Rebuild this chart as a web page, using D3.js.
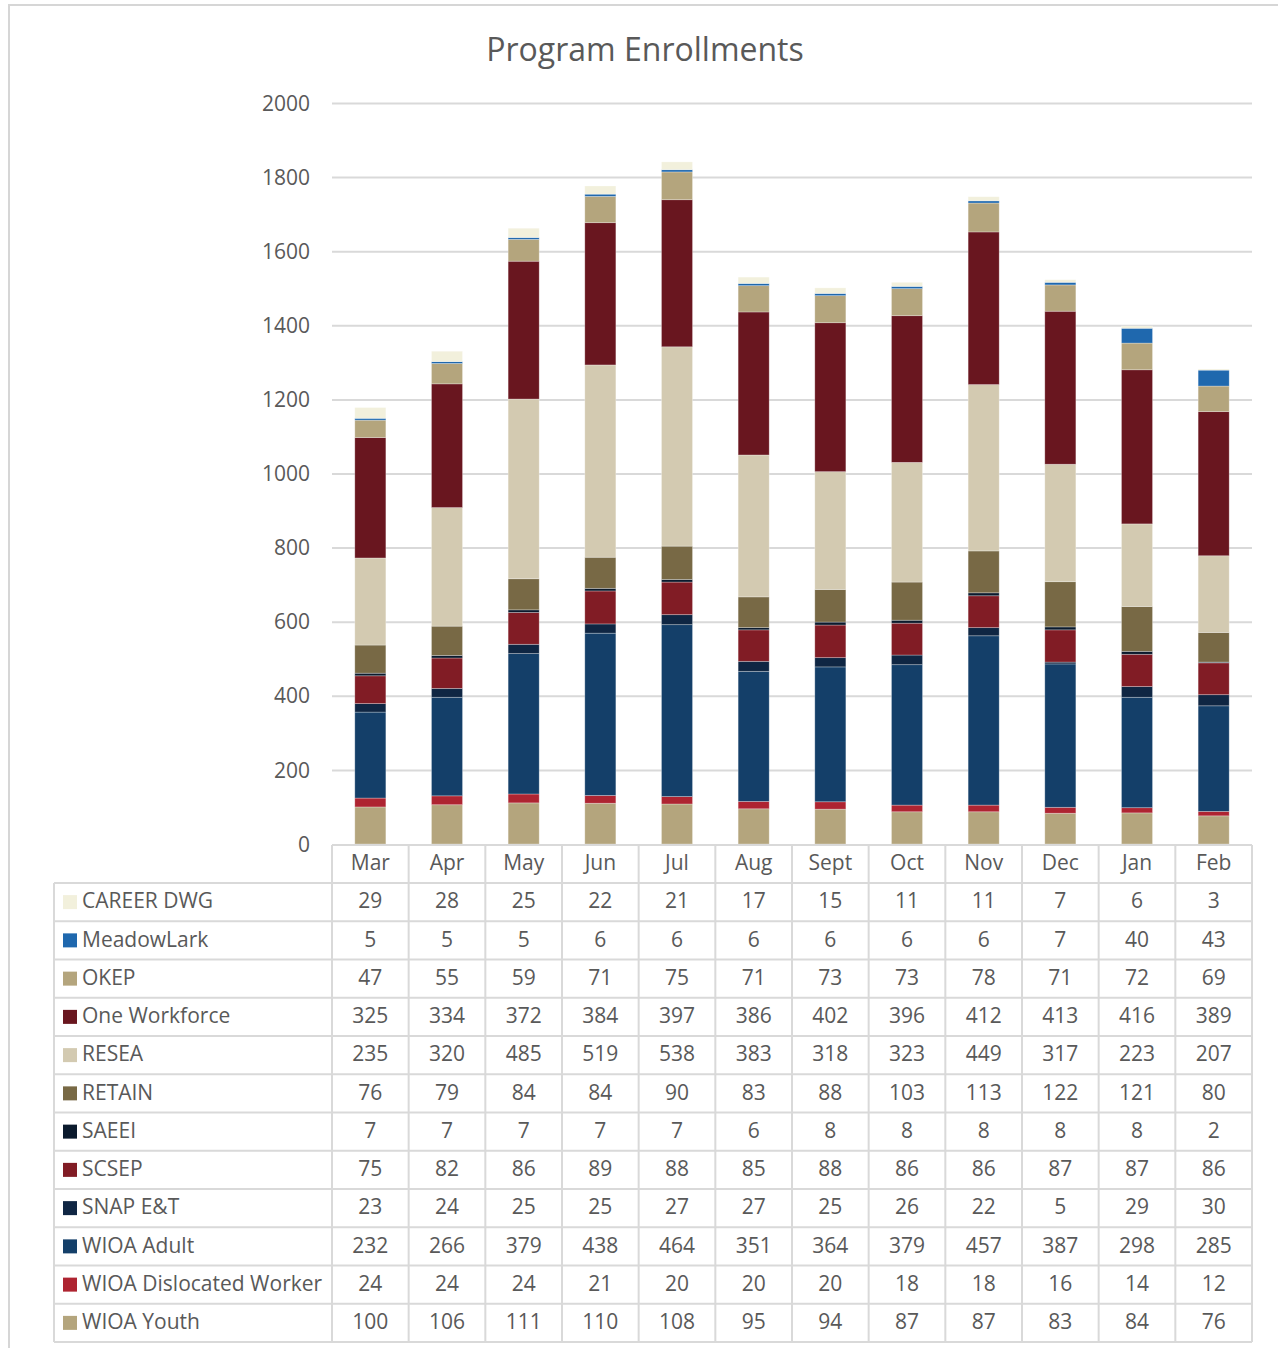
<!DOCTYPE html>
<html>
<head>
<meta charset="utf-8">
<script src="https://cdn.jsdelivr.net/npm/d3@7"></script>
<style>
  html, body { margin: 0; padding: 0; background: #fff; }
  svg { display: block; }
  text { font-family: "Open Sans", "Liberation Sans", sans-serif; fill: #595959; }
</style>
</head>
<body>
<svg id="chart" width="1278" height="1348"></svg>
<script>
// Months shown along the x axis / table header
const months = ["Mar", "Apr", "May", "Jun", "Jul", "Aug", "Sept", "Oct", "Nov", "Dec", "Jan", "Feb"];

// Monthly enrollments per program
const careerDwg          = [29, 28, 25, 22, 21, 17, 15, 11, 11, 7, 6, 3];
const meadowLark         = [5, 5, 5, 6, 6, 6, 6, 6, 6, 7, 40, 43];
const okep               = [47, 55, 59, 71, 75, 71, 73, 73, 78, 71, 72, 69];
const oneWorkforce       = [325, 334, 372, 384, 397, 386, 402, 396, 412, 413, 416, 389];
const resea              = [235, 320, 485, 519, 538, 383, 318, 323, 449, 317, 223, 207];
const retain             = [76, 79, 84, 84, 90, 83, 88, 103, 113, 122, 121, 80];
const saeei              = [7, 7, 7, 7, 7, 6, 8, 8, 8, 8, 8, 2];
const scsep              = [75, 82, 86, 89, 88, 85, 88, 86, 86, 87, 87, 86];
const snapEt             = [23, 24, 25, 25, 27, 27, 25, 26, 22, 5, 29, 30];
const wioaAdult          = [232, 266, 379, 438, 464, 351, 364, 379, 457, 387, 298, 285];
const wioaDislocated     = [24, 24, 24, 21, 20, 20, 20, 18, 18, 16, 14, 12];
const wioaYouth          = [100, 106, 111, 110, 108, 95, 94, 87, 87, 83, 84, 76];

// Table order (top to bottom); the stack is drawn in the reverse order
const seriesNames = ["CAREER DWG", "MeadowLark", "OKEP", "One Workforce", "RESEA", "RETAIN",
                     "SAEEI", "SCSEP", "SNAP E&T", "WIOA Adult", "WIOA Dislocated Worker", "WIOA Youth"];
const seriesValues = [careerDwg, meadowLark, okep, oneWorkforce, resea, retain,
                      saeei, scsep, snapEt, wioaAdult, wioaDislocated, wioaYouth];
const seriesColors = ["#f2f0dc", "#1f68ae", "#b4a57d", "#69161f", "#d3cab1", "#786945",
                      "#0b1a2d", "#811c25", "#0f2643", "#143f69", "#ae2431", "#b4a57d"];

// Y axis ticks
const yTicks = [0, 200, 400, 600, 800, 1000, 1200, 1400, 1600, 1800, 2000];

const svg = d3.select("#chart");
const plotLeft = 332, plotRight = 1252, plotTop = 103, plotBottom = 844;
const labelLeft = 54;
const headerH = 38, rowH = 38.25;
const gridColor = "#d9d9d9";

// Frame around the chart area
svg.append("line").attr("x1", 8).attr("x2", 1278).attr("y1", 5).attr("y2", 5)
  .attr("stroke", "#d6d6d6").attr("stroke-width", 2);
svg.append("line").attr("x1", 9).attr("x2", 9).attr("y1", 5).attr("y2", 1348)
  .attr("stroke", "#d6d6d6").attr("stroke-width", 2);

// Title
svg.append("text").attr("x", 645).attr("y", 61).attr("text-anchor", "middle")
  .style("font-size", "32px").text("Program Enrollments");

const x = d3.scaleBand().domain(months).range([plotLeft, plotRight]).paddingInner(0).paddingOuter(0);
const y = d3.scaleLinear().domain([0, 2000]).range([plotBottom, plotTop]);

// Gridlines and y labels
const yAxis = d3.axisLeft(y).tickValues(yTicks).tickSize(0).tickPadding(0).tickFormat(d3.format("d"));
const yg = svg.append("g").attr("transform", `translate(${plotLeft},0)`).call(yAxis);
yg.select(".domain").remove();
yg.selectAll(".tick text").attr("x", -22).attr("dy", "0.34em")
  .style("font-size", "21px").style("font-family", '"Open Sans", sans-serif').attr("fill", "#595959");
yg.selectAll(".tick").filter(d => d !== 0).append("line")
  .attr("x1", 0).attr("x2", plotRight - plotLeft).attr("stroke", gridColor).attr("stroke-width", 2);

// Stacked bars
const table = months.map((m, i) => {
  const row = { month: m };
  seriesNames.forEach((s, k) => { row[s] = seriesValues[k][i]; });
  return row;
});
const stackKeys = seriesNames.slice().reverse();
const stacked = d3.stack().keys(stackKeys)(table);
const color = d3.scaleOrdinal().domain(seriesNames).range(seriesColors);
const barW = x.bandwidth() * 0.405;

svg.append("g").selectAll("g").data(stacked).join("g")
  .attr("fill", d => color(d.key))
  .selectAll("rect").data(d => d).join("rect")
  .attr("x", d => x(d.data.month) + (x.bandwidth() - barW) / 2)
  .attr("width", barW)
  .attr("y", d => y(d[1]))
  .attr("height", d => y(d[0]) - y(d[1]))
  .attr("stroke", "rgba(255,255,255,0.35)")
  .attr("stroke-width", 0.8);

// Data table
const tTop = plotBottom + 1;
const rowsTop = tTop + headerH;
const tBottom = rowsTop + rowH * seriesNames.length;
const tg = svg.append("g");

// horizontal rules
tg.append("line").attr("x1", plotLeft).attr("x2", plotRight).attr("y1", tTop).attr("y2", tTop)
  .attr("stroke", gridColor).attr("stroke-width", 2);
d3.range(seriesNames.length + 1).forEach(i => {
  const yy = rowsTop + i * rowH;
  tg.append("line").attr("x1", labelLeft).attr("x2", plotRight).attr("y1", yy).attr("y2", yy)
    .attr("stroke", gridColor).attr("stroke-width", 2);
});
// vertical rules
tg.append("line").attr("x1", labelLeft).attr("x2", labelLeft).attr("y1", rowsTop).attr("y2", tBottom)
  .attr("stroke", gridColor).attr("stroke-width", 2);
months.forEach((m, i) => {
  const xx = x(m);
  tg.append("line").attr("x1", xx).attr("x2", xx).attr("y1", tTop).attr("y2", tBottom)
    .attr("stroke", gridColor).attr("stroke-width", 2);
});
tg.append("line").attr("x1", plotRight).attr("x2", plotRight).attr("y1", tTop).attr("y2", tBottom)
  .attr("stroke", gridColor).attr("stroke-width", 2);

// header
tg.selectAll("text.month").data(months).join("text").attr("class", "month")
  .attr("x", d => x(d) + x.bandwidth() / 2).attr("y", tTop + headerH / 2)
  .attr("dy", "0.3em").attr("text-anchor", "middle").style("font-size", "21px").text(d => d);

// rows
seriesNames.forEach((s, k) => {
  const cy = rowsTop + k * rowH + rowH / 2;
  tg.append("rect").attr("x", 63).attr("y", cy - 7).attr("width", 14).attr("height", 14)
    .attr("fill", color(s));
  tg.append("text").attr("x", 82).attr("y", cy).attr("dy", "0.3em")
    .style("font-size", "21px").text(s);
  tg.selectAll(null).data(seriesValues[k]).join("text")
    .attr("x", (d, i) => x(months[i]) + x.bandwidth() / 2).attr("y", cy).attr("dy", "0.3em")
    .attr("text-anchor", "middle").style("font-size", "21px").text(d => d);
});
</script>
</body>
</html>
